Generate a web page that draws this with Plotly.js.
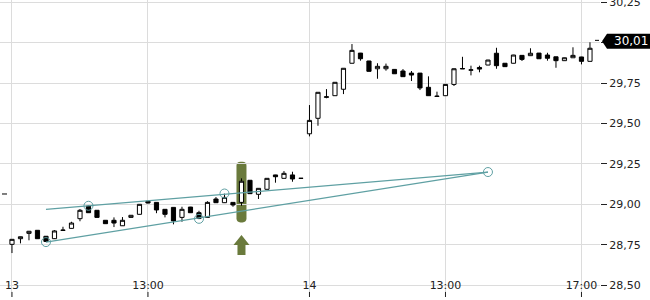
<!DOCTYPE html>
<html>
<head>
<meta charset="utf-8">
<script src="https://cdn.plot.ly/plotly-3.0.1.min.js"></script>
<style>html,body{margin:0;padding:0;background:#fff;}#chart{width:650px;height:300px;}</style>
</head>
<body>
<div id="chart"></div>
<script>
// candle index (15-minute bars over two sessions)
const candleIndex = Array.from({length: 69}, (_, i) => i);
const openPrices = [
  28.752, 28.787, 28.820, 28.839, 28.802, 28.787, 28.838, 28.851, 28.911, 28.989,
  28.963, 28.901, 28.901, 28.867, 28.919, 28.938, 29.019, 29.012, 28.969, 28.981,
  28.919, 28.983, 28.948, 28.919, 29.033, 29.010, 29.012, 29.012, 29.149, 29.062,
  29.093, 29.182, 29.161, 29.182, 29.161,
  29.437, 29.533, 29.663, 29.673, 29.713, 29.874, 29.937, 29.888, 29.840, 29.840,
  29.836, 29.826, 29.813, 29.813, 29.725, 29.668, 29.673, 29.743, 29.839, 29.831,
  29.848, 29.863, 29.936, 29.874, 29.874, 29.923, 29.921, 29.937, 29.925, 29.914,
  29.890, 29.908, 29.913, 29.886
];
const highPrices = [
  28.785, 28.800, 28.835, 28.840, 28.803, 28.840, 28.861, 28.892, 28.971, 28.993,
  28.964, 28.902, 28.919, 28.921, 28.933, 29.001, 29.020, 29.013, 28.970, 28.982,
  28.985, 28.984, 28.960, 29.019, 29.045, 29.066, 29.013, 29.161, 29.150, 29.100,
  29.162, 29.183, 29.206, 29.202, 29.161,
  29.615, 29.695, 29.714, 29.757, 29.844, 29.993, 29.938, 29.889, 29.874, 29.872,
  29.837, 29.838, 29.826, 29.814, 29.793, 29.698, 29.744, 29.842, 29.914, 29.859,
  29.859, 29.895, 29.970, 29.875, 29.926, 29.924, 29.967, 29.938, 29.939, 29.915,
  29.909, 29.973, 29.914, 30.004
];
const lowPrices = [
  28.698, 28.758, 28.777, 28.786, 28.766, 28.785, 28.838, 28.850, 28.895, 28.947,
  28.918, 28.879, 28.859, 28.866, 28.918, 28.937, 29.006, 28.945, 28.919, 28.876,
  28.892, 28.947, 28.908, 28.918, 29.009, 29.009, 28.985, 28.991, 29.065, 29.033,
  29.092, 29.134, 29.160, 29.140, 29.161,
  29.421, 29.487, 29.657, 29.672, 29.683, 29.873, 29.890, 29.823, 29.778, 29.828,
  29.808, 29.790, 29.764, 29.708, 29.672, 29.668, 29.672, 29.733, 29.839, 29.799,
  29.818, 29.862, 29.840, 29.852, 29.873, 29.888, 29.920, 29.901, 29.890, 29.846,
  29.889, 29.907, 29.867, 29.885
];
const closePrices = [
  28.783, 28.799, 28.833, 28.787, 28.770, 28.835, 28.840, 28.884, 28.963, 28.948,
  28.919, 28.880, 28.884, 28.901, 28.932, 29.000, 29.008, 28.965, 28.938, 28.897,
  28.969, 28.948, 28.912, 29.012, 29.010, 29.043, 28.996, 29.143, 29.066, 29.099,
  29.161, 29.171, 29.192, 29.157, 29.161,
  29.520, 29.694, 29.666, 29.756, 29.843, 29.954, 29.902, 29.824, 29.855, 29.855,
  29.809, 29.791, 29.801, 29.721, 29.673, 29.670, 29.743, 29.840, 29.841, 29.833,
  29.838, 29.894, 29.859, 29.853, 29.925, 29.898, 29.936, 29.902, 29.905, 29.890,
  29.908, 29.923, 29.886, 29.967
];

// x-axis ticks
const xTickValues = [0, 16, 35, 51, 67];
const xTickLabels = ["13", "13:00", "14", "13:00", "17:00"];
// y-axis ticks
const yTickValues = [28.50, 28.75, 29.00, 29.25, 29.50, 29.75, 30.00, 30.25];

// trend channel
const upperTrendX = [4, 56];
const upperTrendY = [28.969, 29.200];
const lowerTrendX = [4, 56];
const lowerTrendY = [28.766, 29.200];
const pivotX = [4, 9, 22, 25, 56];
const pivotY = [28.766, 28.991, 28.910, 29.067, 29.200];

// signal
const signalIndex = 27;
const signalBarTop = 29.264;
const signalBarBottom = 28.888;
const signalArrowTip = 28.810;
const signalArrowNeck = 28.748;
const signalArrowBase = 28.686;

// price markers
const lastPrice = 30.01;
const refLevel = 29.064;

const teal = '#5fa0a3';
const olive = '#6a7a3c';

const fmt = v => v.toFixed(2).replace('.', ',');
// the last-price flag covers the tick label beneath it
const yTickLabels = yTickValues.map(v => Math.abs(v - lastPrice) < 0.05 ? '' : fmt(v));

const traces = [
  {
    type: 'candlestick',
    x: candleIndex, open: openPrices, high: highPrices, low: lowPrices, close: closePrices,
    increasing: {line: {color: '#000', width: 1}, fillcolor: '#fff'},
    decreasing: {line: {color: '#000', width: 1}, fillcolor: '#000'},
    whiskerwidth: 0,
    hoverinfo: 'skip',
    showlegend: false
  },
  {type: 'scatter', mode: 'lines', x: upperTrendX, y: upperTrendY, line: {color: teal, width: 1.2}, hoverinfo: 'skip', showlegend: false},
  {type: 'scatter', mode: 'lines', x: lowerTrendX, y: lowerTrendY, line: {color: teal, width: 1.2}, hoverinfo: 'skip', showlegend: false},
  {type: 'scatter', mode: 'markers', x: pivotX, y: pivotY, marker: {symbol: 'circle-open', size: 9, color: teal, line: {width: 1, color: teal}}, hoverinfo: 'skip', showlegend: false}
];

const r = 0.025;
const shapes = [
  // highlighted signal bar (rounded)
  {
    type: 'path', xref: 'x', yref: 'y', xsizemode: 'pixel', xanchor: signalIndex,
    path: `M -5 ${signalBarTop - r} Q -5 ${signalBarTop} -1 ${signalBarTop} L 1 ${signalBarTop} Q 5 ${signalBarTop} 5 ${signalBarTop - r} ` +
          `L 5 ${signalBarBottom + r} Q 5 ${signalBarBottom} 1 ${signalBarBottom} L -1 ${signalBarBottom} Q -5 ${signalBarBottom} -5 ${signalBarBottom + r} Z`,
    fillcolor: olive, line: {width: 0}, layer: 'below'
  },
  // up arrow
  {
    type: 'path', xref: 'x', yref: 'y', xsizemode: 'pixel', xanchor: signalIndex,
    path: `M 0 ${signalArrowTip} L 8 ${signalArrowNeck} L 4 ${signalArrowNeck} L 4 ${signalArrowBase} L -4 ${signalArrowBase} L -4 ${signalArrowNeck} L -8 ${signalArrowNeck} Z`,
    fillcolor: olive, line: {width: 0}, layer: 'above'
  },
  // last price flag
  {
    type: 'path', xref: 'paper', yref: 'y', xsizemode: 'pixel', ysizemode: 'pixel', xanchor: 1, yanchor: lastPrice,
    path: 'M 2 0 L 7 -7.5 L 52 -7.5 L 52 7.5 L 7 7.5 Z',
    fillcolor: '#000', line: {width: 0}
  },
  {
    type: 'line', xref: 'paper', yref: 'y', xsizemode: 'pixel', xanchor: 1,
    x0: -5, x1: -1, y0: lastPrice + 0.006, y1: lastPrice + 0.006,
    line: {color: '#000', width: 1}
  },
  {
    type: 'line', xref: 'paper', yref: 'y', xsizemode: 'pixel', xanchor: 0,
    x0: 2, x1: 7, y0: refLevel, y1: refLevel,
    line: {color: '#000', width: 1}
  }
];
// small x tick marks below the time labels
xTickValues.forEach(v => shapes.push({
  type: 'line', xref: 'x', yref: 'paper', x0: v, x1: v, y0: 0, y1: 0.017,
  line: {color: '#222', width: 1}
}));

const annotations = [
  {
    xref: 'paper', yref: 'y', x: 1, y: lastPrice, xanchor: 'left', yanchor: 'middle',
    xshift: 12, showarrow: false,
    text: fmt(lastPrice),
    font: {family: 'DejaVu Sans', size: 12, color: '#fff'}
  }
];

const layout = {
  width: 650, height: 300,
  margin: {l: 0, r: 50, t: 0, b: 3, pad: 0},
  paper_bgcolor: '#fff', plot_bgcolor: '#fff',
  separators: ',.',
  font: {family: 'DejaVu Sans', size: 11, color: '#222'},
  showlegend: false,
  xaxis: {
    range: [-1.41, 69.18],
    tickvals: xTickValues, ticktext: xTickLabels,
    ticks: '',
    anchor: 'free', position: 0.068,
    showgrid: true, gridcolor: '#dcdcdc', gridwidth: 1,
    zeroline: false, showline: false,
    rangeslider: {visible: false},
    fixedrange: true
  },
  yaxis: {
    side: 'right',
    range: [28.4257, 30.266],
    tickvals: yTickValues, ticktext: yTickLabels,
    ticks: 'outside', ticklen: 6, tickcolor: '#222', tickwidth: 1,
    ticklabeloverflow: 'allow',
    showgrid: true, gridcolor: '#dcdcdc', gridwidth: 1,
    zeroline: false, showline: false,
    fixedrange: true
  },
  shapes: shapes,
  annotations: annotations
};

Plotly.newPlot('chart', traces, layout, {displayModeBar: false, staticPlot: true});
</script>
</body>
</html>
